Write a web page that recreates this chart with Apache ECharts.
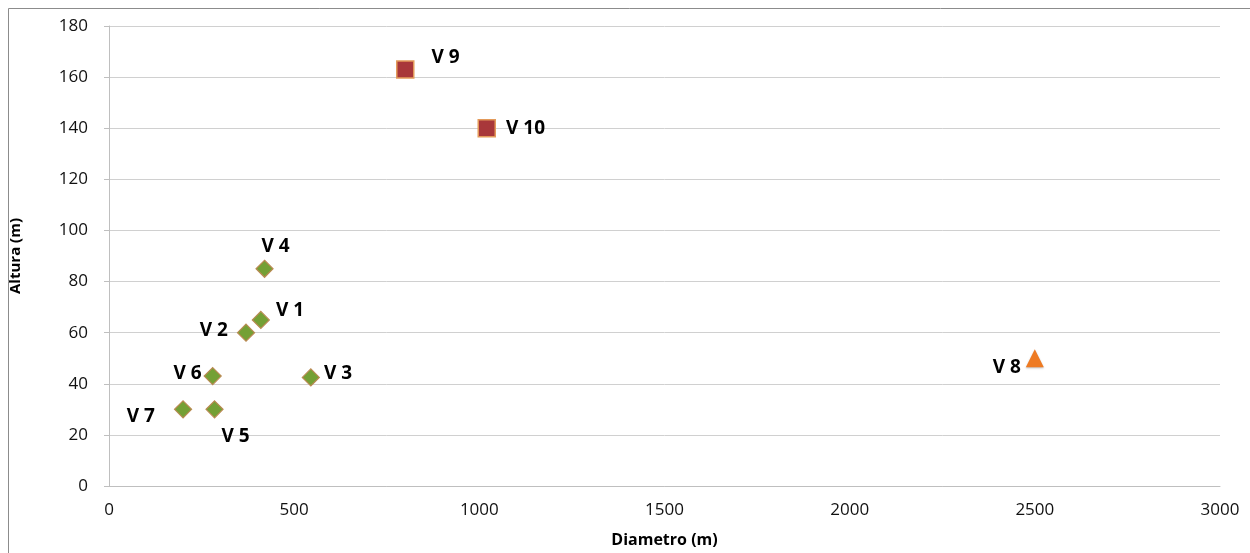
<!DOCTYPE html>
<html>
<head>
<meta charset="utf-8">
<script src="https://cdn.jsdelivr.net/npm/echarts@6/dist/echarts.min.js"></script>
<style>
  html, body { margin: 0; padding: 0; background: #ffffff; }
  #chart { width: 1250px; height: 553px; }
</style>
</head>
<body>
<div id="chart"></div>
<script>
// Volcanic vents: base diameter (m) vs height (m)
const diamondNames = ['V 1', 'V 2', 'V 3', 'V 4', 'V 5', 'V 6', 'V 7'];
const diamondDiam  = [410, 370, 545, 420, 285, 280, 200];
const diamondAlt   = [65, 60, 42.5, 85, 30, 43, 30];

const squareNames = ['V 9', 'V 10'];
const squareDiam  = [800, 1020];
const squareAlt   = [163, 140];

const triangleNames = ['V 8'];
const triangleDiam  = [2500];
const triangleAlt   = [50];

const xTicks = [0, 500, 1000, 1500, 2000, 2500, 3000];
const yTicks = [0, 20, 40, 60, 80, 100, 120, 140, 160, 180];

// where each label sits relative to its marker
const labelPlacement = {
  'V 1':  { position: 'right',  offset: [1, -9] },
  'V 2':  { position: 'left',   offset: [-4, -2] },
  'V 3':  { position: 'right',  offset: [-1, -4] },
  'V 4':  { position: 'top',    offset: [11, 1] },
  'V 5':  { position: 'bottom', offset: [21, 4] },
  'V 6':  { position: 'left',   offset: [3, -3] },
  'V 7':  { position: 'left',   offset: [-14, 7] },
  'V 8':  { position: 'left',   offset: [0, 9] },
  'V 9':  { position: 'right',  offset: [12, -12] },
  'V 10': { position: 'right',  offset: [5, 0] }
};

function points(names, xs, ys) {
  return names.map((n, i) => {
    const p = labelPlacement[n];
    return {
      name: n,
      value: [xs[i], ys[i]],
      label: { position: p.position, offset: p.offset }
    };
  });
}

const labelStyle = {
  show: true,
  formatter: '{b}',
  color: '#000000',
  fontFamily: 'Open Sans',
  fontWeight: 'bold',
  fontSize: 19
};

const tickFont = { fontFamily: 'Open Sans', fontSize: 17, color: '#111111' };

const chart = echarts.init(document.getElementById('chart'));
chart.setOption({
  animation: false,
  backgroundColor: '#ffffff',
  graphic: [{
    type: 'rect',
    shape: { x: 8.5, y: 8.5, width: 1260, height: 600 },
    style: { fill: 'none', stroke: '#8c8c8c', lineWidth: 1 },
    silent: true,
    z: -1
  }],
  grid: { left: 109, right: 30, top: 26, bottom: 65 },
  xAxis: {
    type: 'value',
    min: xTicks[0],
    max: xTicks[xTicks.length - 1],
    interval: xTicks[1] - xTicks[0],
    name: 'Diametro (m)',
    nameLocation: 'middle',
    nameGap: 46,
    nameTextStyle: { fontFamily: 'Open Sans', fontWeight: 'bold', fontSize: 16, color: '#000' },
    axisLine: { show: true, lineStyle: { color: '#bfbfbf' } },
    axisTick: { show: false },
    axisLabel: Object.assign({ margin: 16, formatter: v => String(v) }, tickFont),
    splitLine: { show: false }
  },
  yAxis: {
    type: 'value',
    min: yTicks[0],
    max: yTicks[yTicks.length - 1],
    interval: yTicks[1] - yTicks[0],
    name: 'Altura (m)',
    nameLocation: 'middle',
    nameGap: 86,
    nameRotate: 90,
    nameTextStyle: { fontFamily: 'Open Sans', fontWeight: 'bold', fontSize: 15, color: '#000' },
    axisLine: { show: true, lineStyle: { color: '#bfbfbf' } },
    axisTick: { show: true, inside: false, length: 5, lineStyle: { color: '#bfbfbf' } },
    axisLabel: Object.assign({ margin: 21, formatter: v => String(v) }, tickFont),
    splitLine: { show: true, lineStyle: { color: '#d0d0d0', width: 1 } }
  },
  series: [
    {
      type: 'scatter',
      symbol: 'diamond',
      symbolSize: 17,
      itemStyle: { color: '#74a035', borderColor: '#b98a52', borderWidth: 1.2, opacity: 1 },
      label: labelStyle,
      data: points(diamondNames, diamondDiam, diamondAlt)
    },
    {
      type: 'scatter',
      symbol: 'rect',
      symbolSize: 17,
      itemStyle: { color: '#a8373a', borderColor: '#e39a5a', borderWidth: 1.5, opacity: 1 },
      label: labelStyle,
      data: points(squareNames, squareDiam, squareAlt)
    },
    {
      type: 'scatter',
      symbol: 'triangle',
      symbolSize: 18,
      itemStyle: { color: '#ee7a22', opacity: 1, shadowColor: 'rgba(0,0,0,0.25)', shadowBlur: 2, shadowOffsetY: 1 },
      label: labelStyle,
      data: points(triangleNames, triangleDiam, triangleAlt)
    }
  ]
});
</script>
</body>
</html>
